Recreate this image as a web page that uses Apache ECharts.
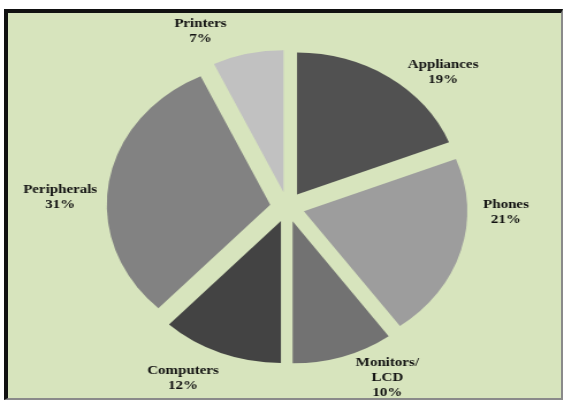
<!DOCTYPE html>
<html>
<head>
<meta charset="utf-8">
<script src="https://cdn.jsdelivr.net/npm/echarts@6/dist/echarts.min.js"></script>
<style>
  html, body { margin: 0; padding: 0; background: #ffffff; width: 564px; height: 401px; overflow: hidden; }
  #frame { position: absolute; left: 4px; top: 9px; width: 553px; height: 385px;
           background: #d7e4bd; border-top: 4px solid #111; border-left: 4px solid #111;
           border-right: 2px solid #8a8a8a; border-bottom: 2px solid #8a8a8a; }
  #chart { position: absolute; left: 0; top: 0; width: 490px; height: 401px;
           transform: scaleX(1.151); transform-origin: 0 0; }
</style>
</head>
<body>
<div id="frame"></div>
<div id="chart"></div>
<script>
const categories = ['Appliances', 'Phones', 'Monitors/\nLCD', 'Computers', 'Peripherals', 'Printers'];
const shares = [19, 21, 10, 12, 31, 7];
const palette = ['#515151', '#9d9d9d', '#727272', '#434343', '#828282', '#c1c1c1'];
// label nudges (chart px) from the library's outside label position
const labelShift = [[12.0, -5.4], [15.3, -38.8], [6.3, 22.3], [2.9, 25.9], [-6.1, 14.2], [-13.7, -24.1]];

const pieCenter = [249.6, 207];
const pieRadius = 142;

const chart = echarts.init(document.getElementById('chart'), null, { renderer: 'canvas' });
chart.setOption({
  animation: false,
  backgroundColor: 'transparent',
  series: [{
    type: 'pie',
    center: pieCenter,
    radius: pieRadius,
    startAngle: 90,
    clockwise: true,
    selectedMode: 'multiple',
    selectedOffset: 15,
    emphasis: { disabled: true },
    select: { itemStyle: { borderWidth: 0 } },
    itemStyle: { borderWidth: 0 },
    label: { show: false },
    labelLine: { show: false },
    data: categories.map((c, i) => ({
      name: c,
      value: shares[i],
      selected: true,
      itemStyle: { color: palette[i] }
    }))
  }, {
    type: 'pie',
    center: pieCenter,
    radius: pieRadius,
    startAngle: 90,
    clockwise: true,
    selectedMode: false,
    silent: true,
    avoidLabelOverlap: false,
    emphasis: { disabled: true },
    itemStyle: { color: 'rgba(0,0,0,0)', borderWidth: 0 },
    label: {
      show: true,
      position: 'outside',
      formatter: p => p.name + '\n' + Math.round(p.percent) + '%',
      fontFamily: 'Liberation Serif',
      fontWeight: 'bold',
      fontSize: 13,
      lineHeight: 15,
      color: '#111111'
    },
    labelLine: { show: false, length: 14, length2: 0 },
    labelLayout: function (params) {
      const r = params.labelRect;
      const s = labelShift[params.dataIndex];
      return { x: r.x + r.width / 2 + s[0], y: r.y + r.height / 2 + s[1], align: 'center', verticalAlign: 'middle' };
    },
    data: categories.map((c, i) => ({ name: c, value: shares[i] }))
  }]
});
</script>
</body>
</html>
